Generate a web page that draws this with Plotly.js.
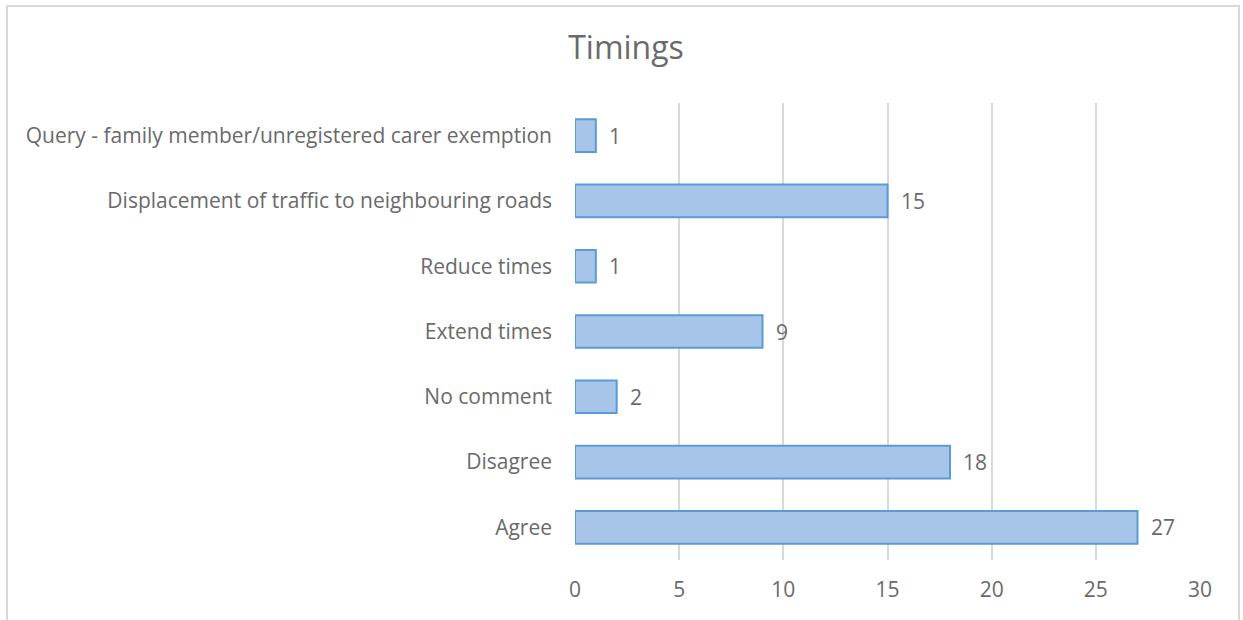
<!DOCTYPE html>
<html>
<head>
<meta charset="utf-8">
<script src="https://cdn.plot.ly/plotly-3.0.1.min.js"></script>
<style>
  html, body { margin: 0; padding: 0; background: #ffffff; }
  #wrap { position: relative; width: 1243px; height: 620px; overflow: hidden; }
  #chart { width: 1243px; height: 620px; }
  #frame { position: absolute; left: 6px; top: 5px; width: 1234px; height: 700px;
           border: 2px solid #d9d9d9; pointer-events: none; box-sizing: border-box; }
</style>
</head>
<body>
<div id="wrap">
  <div id="chart"></div>
  <div id="frame"></div>
</div>
<script>
const chartTitle = "Timings";
const categories = [
  "Agree",
  "Disagree",
  "No comment",
  "Extend times",
  "Reduce times",
  "Displacement of traffic to neighbouring roads",
  "Query - family member/unregistered carer exemption"
];
const counts = [27, 18, 2, 9, 1, 15, 1];
const xTicks = [0, 5, 10, 15, 20, 25, 30];

const FONT = "'Open Sans', sans-serif";
const GREY = "#6a6a6a";
const FS = 21;

const trace = {
  type: "bar",
  orientation: "h",
  x: counts,
  y: categories,
  marker: { color: "#a7c5e9", line: { color: "#5b9bd5", width: 2 } },
  hoverinfo: "x+y"
};

const annotations = counts.map((v, i) => ({
  x: v, y: categories[i], xref: "x", yref: "y",
  text: String(v), showarrow: false, xanchor: "left", yanchor: "middle",
  xshift: 11, font: { family: FONT, size: FS, color: GREY }
}));

const layout = {
  width: 1243, height: 620,
  paper_bgcolor: "#ffffff", plot_bgcolor: "#ffffff",
  margin: { l: 575, r: 43, t: 103, b: 60 },
  bargap: 0.5,
  showlegend: false,
  title: {
    text: chartTitle, xref: "paper", x: (626 - 575) / 625, xanchor: "center",
    yref: "container", y: 1 - 48 / 620, yanchor: "middle",
    font: { family: FONT, size: 32, color: GREY }
  },
  xaxis: {
    range: [0, 30], tickvals: xTicks, ticktext: xTicks.map(String),
    showgrid: true, gridcolor: "#d9d9d9", gridwidth: 2,
    zeroline: false, showline: false, ticks: "",
    ticklabelstandoff: 15,
    tickfont: { family: FONT, size: FS, color: GREY },
    fixedrange: true
  },
  yaxis: {
    type: "category", categoryorder: "array", categoryarray: categories,
    showgrid: false, zeroline: false, showline: false, ticks: "",
    ticklabelstandoff: 22,
    tickfont: { family: FONT, size: FS, color: GREY },
    fixedrange: true
  },
  annotations: annotations
};

Plotly.newPlot("chart", [trace], layout, { displayModeBar: false, staticPlot: true });
</script>
</body>
</html>
